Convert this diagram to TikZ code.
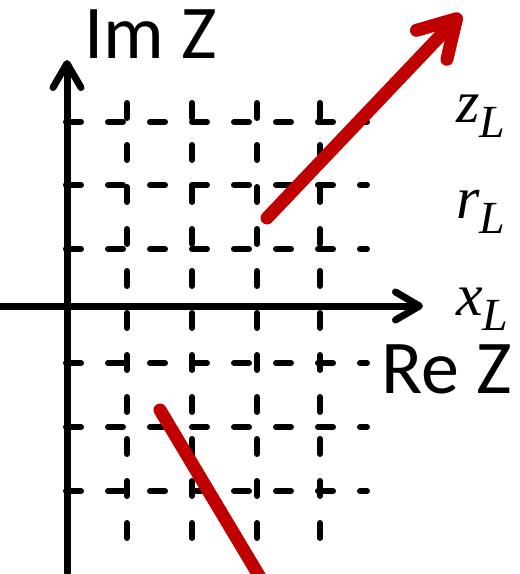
\documentclass[tikz,border=0pt]{standalone}
\usepackage{fontspec}
\setmainfont{Carlito}
\newfontfamily\timesfont{Liberation Serif}
\usetikzlibrary{arrows.meta}
\definecolor{arrred}{HTML}{C00000}
\newcommand{\mlab}[2]{{\timesfont\itshape\fontsize{60}{60}\selectfont #1\raisebox{-15pt}{\fontsize{46}{46}\selectfont #2}}}
\begin{document}
\begin{tikzpicture}[x=1pt,y=-1pt,line cap=round,
  axis/.style={line width=7pt,-{Straight Barb[round,length=24pt,width=28pt]}},
  gridline/.style={line width=6pt,dash pattern=on 15pt off 27pt},
  vec/.style={line width=13pt,draw=arrred},
  lbl/.style={inner sep=0pt,anchor=base west},
  sanslbl/.style={lbl,font=\fontsize{76}{76}\selectfont}]
\useasboundingbox (0,0) rectangle (520,574);
% grid
\foreach \y in {122,185,249,363,427,491}{
  \coordinate (hl\y) at (66,\y);
  \coordinate (hr\y) at (367,\y);
  \draw[gridline] (hl\y) -- (hr\y);
}
\foreach \x in {127,192,257,320}{
  \coordinate (vt\x) at (\x,103);
  \coordinate (vb\x) at (\x,538);
  \draw[gridline] (vt\x) -- (vb\x);
}
% axes
\coordinate (ybot) at (67,573);
\coordinate (ytop) at (67,60);
\coordinate (xleft) at (0,306);
\coordinate (xright) at (423,306);
\draw[axis] (ybot) -- (ytop);
\draw[axis] (xleft) -- (xright);
% vectors
\coordinate (va) at (267,218);
\coordinate (vb) at (461,14);
\draw[vec,-{Straight Barb[round,length=36pt,width=42pt]}] (va) -- (vb);
\coordinate (wa) at (160,410);
\coordinate (wb) at (264,584);
\draw[vec] (wa) -- (wb);
% labels
\node[sanslbl] (im) at (84,58) {Im Z};
\node[sanslbl] (re) at (381,393) {Re Z};
\node[lbl] (zl) at (456,122) {\mlab{z}{L}};
\node[lbl] (rl) at (456,218) {\mlab{r}{L}};
\node[lbl] (xl) at (456,315) {\mlab{x}{L}};
\end{tikzpicture}
\end{document}
